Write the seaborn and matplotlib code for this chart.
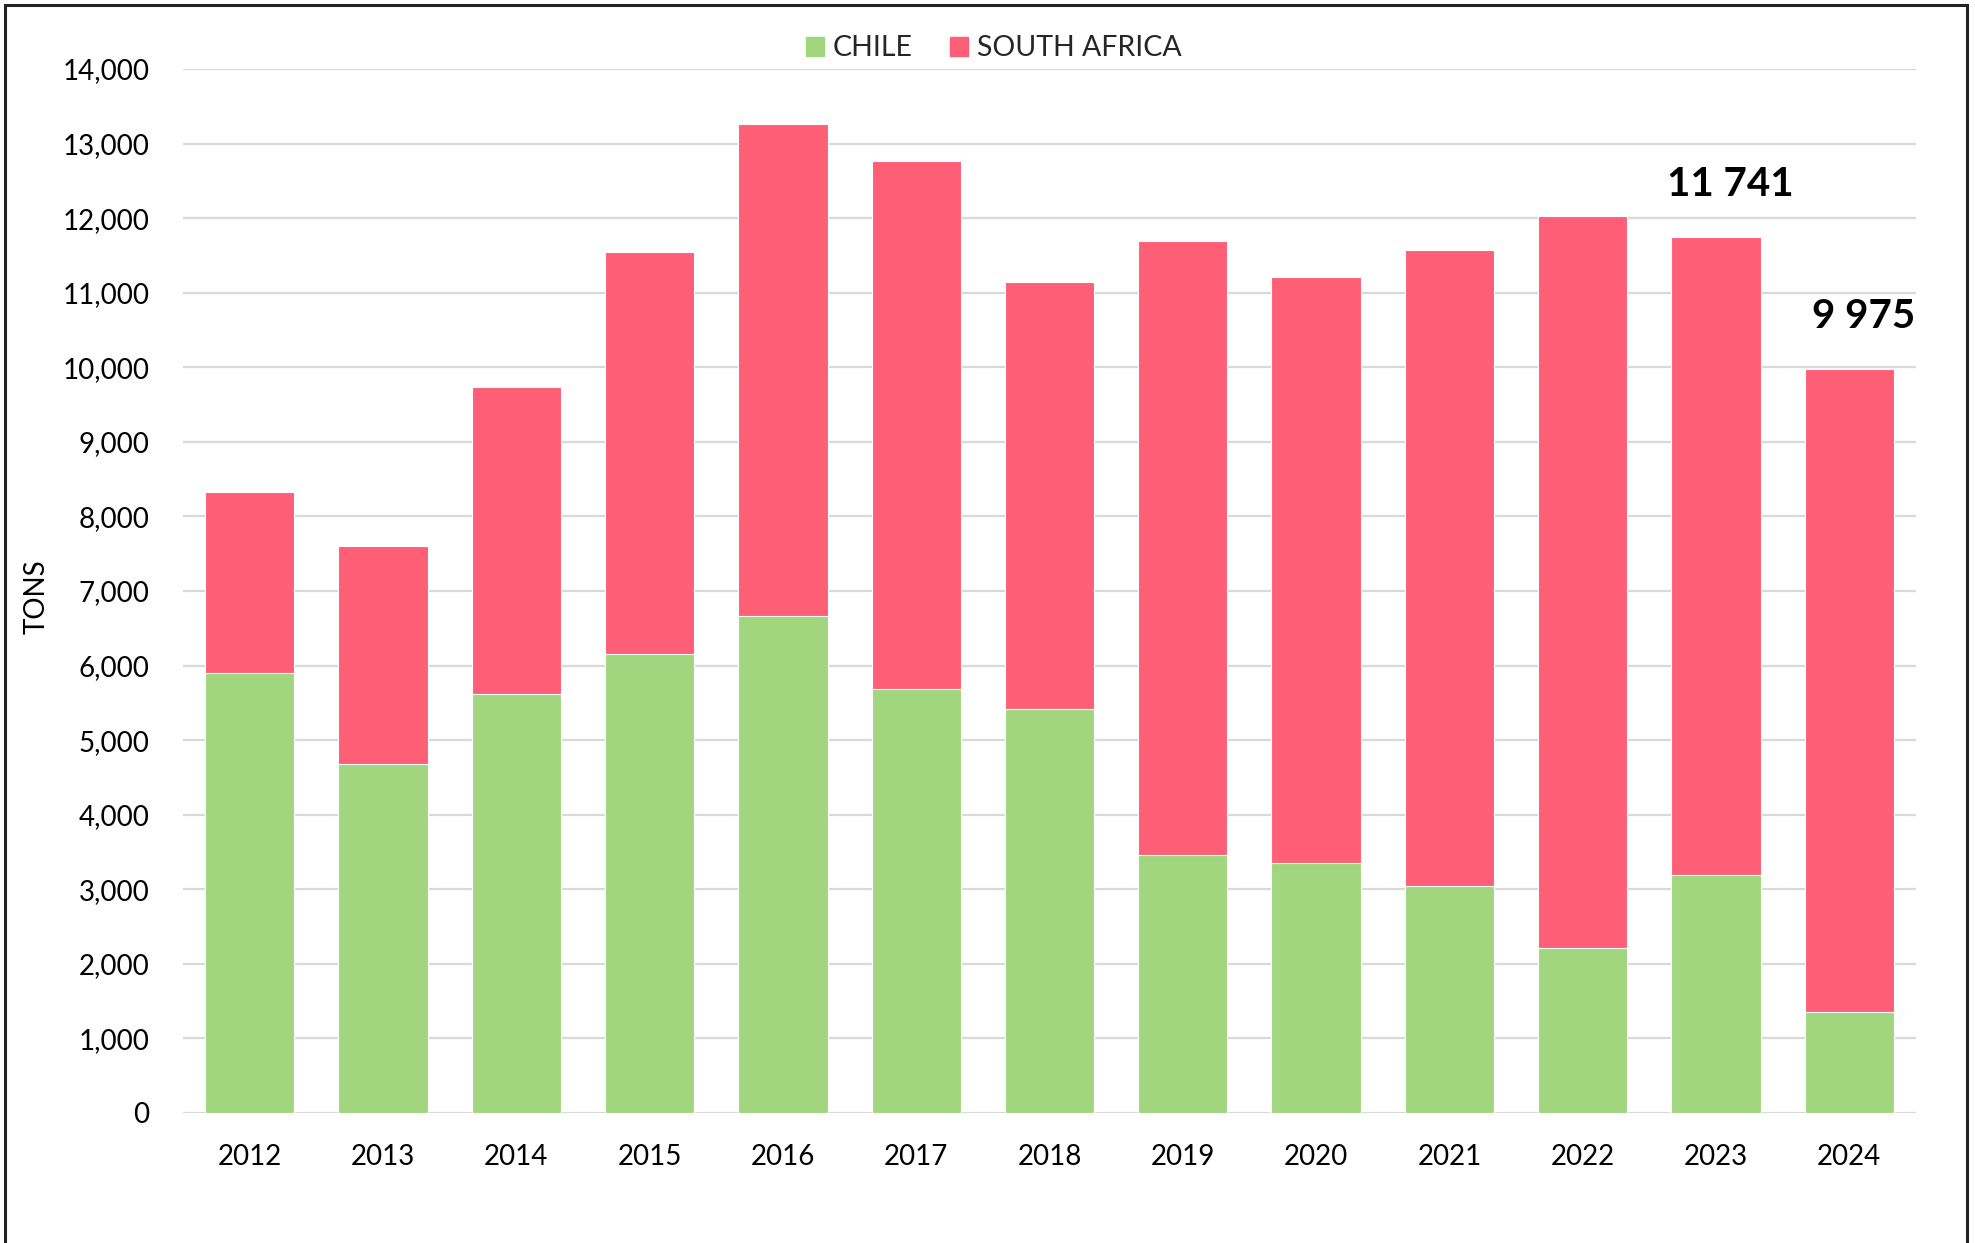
import matplotlib.patches as mpatches
import numpy as np
import pandas as pd
import seaborn as sns
from matplotlib import pyplot as plt
from matplotlib.ticker import FuncFormatter, MultipleLocator

years = ["2012", "2013", "2014", "2015", "2016", "2017", "2018",
         "2019", "2020", "2021", "2022", "2023", "2024"]
chile = [5900, 4680, 5620, 6150, 6670, 5690, 5420, 3460, 3350, 3040, 2210, 3190, 1350]
total = [8330, 7600, 9730, 11540, 13260, 12770, 11150, 11690, 11210, 11570, 12030, 11741, 9975]
labelled_years = ["2023", "2024"]
label_texts = ["11 741", "9 975"]

GREEN = "#A1D57E"
PINK = "#FF5E77"


def main() -> None:
    df = pd.DataFrame({"year": years, "chile": chile, "total": total})

    sns.set_theme(style="white")
    plt.rcParams["font.family"] = ["Lato", "DejaVu Sans"]

    fig = plt.figure(figsize=(19.75, 12.43), dpi=100)
    ax = fig.add_axes([0.0927, 0.1046, 0.8774, 0.8399])

    sns.barplot(data=df, x="year", y="total", color=PINK, width=0.67,
                edgecolor="white", linewidth=0.8, saturation=1, ax=ax, zorder=3)
    sns.barplot(data=df, x="year", y="chile", color=GREEN, width=0.67,
                edgecolor="white", linewidth=0.8, saturation=1, ax=ax, zorder=3)

    ax.set_xlim(-0.5, len(years) - 0.5)
    ax.set_ylim(0, 14000)
    ax.yaxis.set_major_locator(MultipleLocator(1000))
    ax.yaxis.set_major_formatter(FuncFormatter(lambda v, _: f"{int(v):,}"))
    ax.grid(axis="y", color="#D9D9D9", linewidth=1.6, zorder=0)
    ax.grid(axis="x", visible=False)
    ax.set_axisbelow(True)
    for side in ["top", "right", "left", "bottom"]:
        ax.spines[side].set_visible(False)

    ax.tick_params(axis="y", length=0, pad=24, labelsize=20, labelcolor="black")
    ax.tick_params(axis="x", length=0, pad=22, labelsize=20, labelcolor="black")
    ax.set_xlabel("")
    ax.set_ylabel("TONS", fontsize=20, color="black")
    ax.yaxis.set_label_coords(-0.077, 0.495)

    # Total labels on the last two bars
    for yr, txt in zip(labelled_years, label_texts):
        i = years.index(yr)
        ax.annotate(txt, xy=(i, total[i]), xytext=(14, 34),
                    textcoords="offset pixels", ha="center", va="bottom",
                    fontsize=29, fontweight="bold", color="black")

    handles = [mpatches.Patch(color=GREEN, label="CHILE"),
               mpatches.Patch(color=PINK, label="SOUTH AFRICA")]
    fig.legend(handles=handles, loc="center", bbox_to_anchor=(0.503, 0.961),
               ncol=2, frameon=False, fontsize=20.5, handlelength=0.65,
               handleheight=0.65, handletextpad=0.3, columnspacing=1.3)

    # Outer frame of the chart area
    fig.patches.append(mpatches.Rectangle((0.0025, -0.05), 0.9935, 1.046,
                                          transform=fig.transFigure,
                                          fill=False, edgecolor="#222222",
                                          linewidth=2.2))

    fig.savefig("out.png", dpi=100)
    plt.close(fig)


if __name__ == "__main__":
    main()
